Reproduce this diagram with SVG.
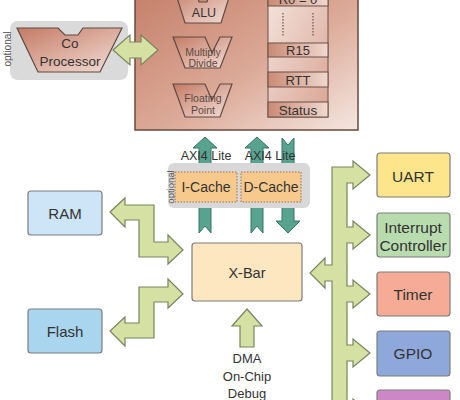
<svg xmlns="http://www.w3.org/2000/svg" width="460" height="400" viewBox="0 0 460 400">
<defs>
<linearGradient id="cpuG" x1="0" y1="0" x2="1" y2="1">
<stop offset="0" stop-color="#c47f69"/>
<stop offset="0.55" stop-color="#dcaa98"/>
<stop offset="1" stop-color="#f4e6e0"/>
</linearGradient>
<linearGradient id="shapeG" x1="0" y1="0" x2="1" y2="1">
<stop offset="0" stop-color="#c47a64"/>
<stop offset="1" stop-color="#f3dfd8"/>
</linearGradient>
<linearGradient id="regG" x1="0" y1="0" x2="1" y2="0">
<stop offset="0" stop-color="#c98a74"/>
<stop offset="1" stop-color="#f0d8ce"/>
</linearGradient>
<linearGradient id="colG" x1="0" y1="0" x2="1" y2="1">
<stop offset="0" stop-color="#f4e4de"/>
<stop offset="1" stop-color="#d9a492"/>
</linearGradient>
</defs>
<style>
text{font-family:"Liberation Sans",Arial,sans-serif;fill:#333;text-anchor:middle}
.shp{fill:url(#shapeG);stroke:#5e4a42;stroke-width:1.2}
.reg{fill:url(#regG);stroke:#6a5048;stroke-width:1}
.grn{fill:#d5e1a2;stroke:#7a8460;stroke-width:1.2}
.tl{fill:#58a290;stroke:#3a7464;stroke-width:1}
.box{stroke:#7d7d7d;stroke-width:1.2}
.opt{font-size:10px;fill:#555}
.pl{font-size:15.5px}
</style>

<g id="cpu">
<rect x="135" y="-10" width="223" height="140" fill="url(#cpuG)" stroke="#6b4a3c" stroke-width="1.5"/>
<g id="alu">
<path class="shp" d="M174,-12 L196,-12 L199,2 L207,2 L210,-12 L232,-12 L221,23 L185,23 Z"/>
<text x="204" y="17" font-size="12.5">ALU</text>
</g>
<g id="muldiv">
<path class="shp" d="M173,37 L205,37 L212,53 L220,37 L232,37 L220,68 L185,68 Z"/>
<text x="203" y="56" font-size="10.5" style="fill:#5e4a42">Multiply</text>
<text x="203" y="67" font-size="10.5" style="fill:#5e4a42">Divide</text>
</g>
<g id="fpu">
<path class="shp" d="M173,84 L205,84 L212,100 L220,84 L232,84 L220,117 L185,117 Z"/>
<text x="203" y="102" font-size="10.5" style="fill:#5e4a42">Floating</text>
<text x="203" y="114" font-size="10.5" style="fill:#5e4a42">Point</text>
</g>
<g id="regs">
<rect x="268" y="-6" width="60" height="123" fill="url(#colG)" stroke="#6a5048" stroke-width="1"/>
<rect class="reg" x="268" y="-8" width="60" height="14"/>
<text x="298" y="4" font-size="13">R0 = 0</text>
<line x1="283" y1="13" x2="283" y2="36" stroke="#6a5048" stroke-width="1.2" stroke-dasharray="1.5,1.5"/>
<line x1="313" y1="13" x2="313" y2="36" stroke="#6a5048" stroke-width="1.2" stroke-dasharray="1.5,1.5"/>
<rect class="reg" x="268" y="43" width="60" height="14"/>
<text x="298" y="55" font-size="13">R15</text>
<rect class="reg" x="268" y="72" width="60" height="15"/>
<text x="298" y="84.5" font-size="13">RTT</text>
<rect class="reg" x="268" y="102" width="60" height="15"/>
<text x="298" y="114.5" font-size="13.5">Status</text>
</g>
</g>

<g id="coproc">
<rect x="10" y="21" width="118" height="59" rx="8" fill="#dadada"/>
<text class="opt" transform="translate(11,49) rotate(-90)">optional</text>
<path class="shp" d="M17,28 L58,28 L65,35 L78,35 L83,28 L122,28 L100,72 L38,72 Z"/>
<text x="70" y="48" font-size="13.5">Co</text>
<text x="70" y="66" font-size="13.5">Processor</text>
</g>

<g id="connectors">
<path class="grn" d="M113,50 L130,35 L130,42 L141,42 L141,35 L158,50 L141,65 L141,58 L130,58 L130,65 Z"/>
<path class="tl" d="M199,233 L199,148 L193,148 L205,137 L217,148 L211,148 L211,233 L205,226 Z"/>
<path class="tl" d="M251,233 L251,148 L245,148 L257,137 L269,148 L263,148 L263,233 L257,226 Z"/>
<path class="tl" d="M282,138 L288,145 L294,138 L294,221 L300,221 L288,233 L276,221 L282,221 Z"/>
<path class="grn" d="M110,212 L125,198 L125,205 L154,205 L154,242 L168,242 L168,235 L183,250 L168,264 L168,257 L139,257 L139,220 L125,220 L125,227 Z"/>
<path class="grn" d="M183,294 L168,279 L168,287 L139,287 L139,323 L125,323 L125,317 L110,331 L125,346 L125,338 L154,338 L154,302 L168,302 L168,308 Z"/>
<path class="grn" d="M240,347 L240,326 L232,326 L247,309 L262,326 L254,326 L254,347 Z"/>
<path class="grn" d="M332,167 L353,167 L353,161 L370,175 L353,189 L353,183 L347,183 L347,227 L353,227 L353,221 L370,235 L353,249 L353,243 L347,243 L347,286 L353,286 L353,280 L370,294 L353,308 L353,302 L347,302 L347,345 L353,345 L353,339 L370,353 L353,367 L353,361 L347,361 L347,405 L353,405 L353,399 L370,413 L353,427 L332,427 L332,281 L325,281 L325,288 L310,273 L325,258 L325,265 L332,265 Z"/>
</g>

<g id="cache">
<rect x="168" y="163" width="142" height="45" rx="6" fill="#d8d8d8"/>
<text class="opt" style="font-size:9.5px" transform="translate(174,187) rotate(-90)">optional</text>
<g id="icache">
<rect x="175" y="172" width="62" height="30" fill="#f8c98c" stroke="#9a7050" stroke-width="1" stroke-dasharray="1.5,1.5"/>
<text x="206" y="192" font-size="14">I-Cache</text>
</g>
<g id="dcache">
<rect x="241" y="172" width="60" height="30" fill="#f8c98c" stroke="#9a7050" stroke-width="1" stroke-dasharray="1.5,1.5"/>
<text x="271" y="192" font-size="14">D-Cache</text>
</g>
</g>
<text x="206" y="160" font-size="12.5">AXI4 Lite</text>
<text x="270" y="160" font-size="12.5">AXI4 Lite</text>

<g id="ram">
<rect class="box" x="28" y="191" width="74" height="44" rx="3" fill="#cde5f7"/>
<text x="65" y="218.5" font-size="15">RAM</text>
</g>
<g id="flash">
<rect class="box" x="28" y="309" width="74" height="44" rx="3" fill="#a9d5ef"/>
<text x="65" y="337" font-size="15">Flash</text>
</g>
<g id="xbar">
<rect class="box" x="192" y="243" width="110" height="58" rx="3" fill="#fde7c0"/>
<text x="247" y="278" font-size="14.5">X-Bar</text>
</g>
<g id="dma">
<text x="247" y="363" font-size="13">DMA</text>
<text x="247" y="381" font-size="13">On-Chip</text>
<text x="247" y="398" font-size="13">Debug</text>
</g>
<g id="uart">
<rect class="box" x="377" y="153" width="73" height="44" rx="3" fill="#fde58c"/>
<text class="pl" x="413" y="181.5">UART</text>
</g>
<g id="intc">
<rect class="box" x="377" y="213" width="73" height="44" rx="3" fill="#b8dcae"/>
<text class="pl" x="413" y="232.5">Interrupt</text>
<text class="pl" x="413" y="251">Controller</text>
</g>
<g id="timer">
<rect class="box" x="377" y="272" width="73" height="44" rx="3" fill="#f5ab95"/>
<text class="pl" x="413" y="300">Timer</text>
</g>
<g id="gpio">
<rect class="box" x="377" y="331" width="73" height="45" rx="3" fill="#8fa8dc"/>
<text class="pl" x="413" y="358.5">GPIO</text>
</g>
<g id="periph5">
<rect class="box" x="377" y="390" width="73" height="44" rx="3" fill="#cc88c6"/>
</g>
</svg>
